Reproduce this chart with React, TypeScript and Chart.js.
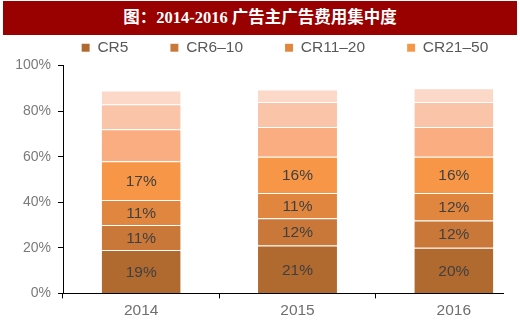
import React, { useEffect, useRef } from 'react';
import { Chart, registerables } from 'chart.js';

Chart.register(...registerables);

const years = ['2014', '2015', '2016'];
const legendNames = ['CR5', 'CR6–10', 'CR11–20', 'CR21–50'];
const cr5 = [19, 21, 20];
const cr6to10 = [11, 12, 12];
const cr11to20 = [11, 11, 12];
const cr21to50 = [17, 16, 16];
const restA = [14, 13, 13];
const restB = [11, 11, 11];
const restC = [6, 5.5, 6];
const yTicks = [0, 20, 40, 60, 80, 100];
const titleText = '图：2014-2016 广告主广告费用集中度';

const colors = ['#B0692F', '#C9783A', '#E0863F', '#F79646', '#F9AD80', '#FAC4A8', '#FBD8C8'];
const FONT = '"Liberation Sans", Arial, sans-serif';

const segLabels = {
  id: 'segLabels',
  afterDatasetsDraw(chart: any) {
    const ctx = chart.ctx;
    ctx.save();
    ctx.font = `15.5px ${FONT}`;
    ctx.fillStyle = '#404040';
    ctx.textAlign = 'center';
    ctx.textBaseline = 'middle';
    chart.data.datasets.forEach((ds: any, i: number) => {
      if (i > 3) return;
      const meta = chart.getDatasetMeta(i);
      meta.data.forEach((el: any, j: number) => {
        const { x, y, base } = el.getProps(['x', 'y', 'base'], true);
        ctx.fillText(Math.round(ds.data[j]) + '%', x, (y + base) / 2 + 1);
      });
    });
    ctx.restore();
  },
};

// shift the legend's centring box so that it is centred like the reference
const legendShift = {
  id: 'legendShift',
  afterLayout(chart: any) {
    if (chart.legend) {
      chart.legend.left = chart.chartArea.left - 25;
    }
  },
};

export default function App() {
  const ref = useRef<HTMLCanvasElement | null>(null);

  useEffect(() => {
    if (!ref.current) return;
    const series = [cr5, cr6to10, cr11to20, cr21to50, restA, restB, restC];
    const chart = new Chart(ref.current, {
      type: 'bar',
      data: {
        labels: years,
        datasets: series.map((d, i) => ({
          label: i < legendNames.length ? legendNames[i] : '',
          data: d,
          backgroundColor: colors[i],
          borderColor: 'rgba(255,255,255,0.3)',
          borderWidth: { top: 1, left: 0, right: 0, bottom: 0 },
          borderSkipped: false,
          categoryPercentage: 1,
          barPercentage: 0.505,
        })),
      },
      options: {
        responsive: false,
        animation: false,
        devicePixelRatio: 1,
        layout: { padding: { left: 10, right: 8, top: 0, bottom: 0 } },
        plugins: {
          tooltip: { enabled: false },
          legend: {
            display: true,
            position: 'top',
            labels: {
              boxWidth: 8,
              boxHeight: 8,
              padding: 42,
              color: '#595959',
              font: { size: 15.5, family: FONT },
              filter: (item: any) => item.text !== '',
            },
          },
        },
        scales: {
          x: {
            stacked: true,
            grid: { display: true, drawOnChartArea: false, drawTicks: true, tickLength: 5, color: '#000', offset: true },
            border: { display: true, color: '#000', width: 1 },
            ticks: { color: '#6f6f6f', padding: 3, font: { size: 15.5, family: FONT } },
          },
          y: {
            stacked: true,
            min: yTicks[0],
            max: yTicks[yTicks.length - 1],
            afterFit: (scale: any) => {
              scale.width = 53;
            },
            grid: { display: true, drawOnChartArea: false, drawTicks: true, tickLength: 5, color: '#000' },
            border: { display: true, color: '#000', width: 1 },
            ticks: {
              stepSize: yTicks[1] - yTicks[0],
              color: '#7a7a7a',
              padding: 7,
              font: { size: 14, family: FONT },
              callback: (v: any) => String(v) + '%',
            },
          },
        },
      },
      plugins: [segLabels, legendShift],
    });
    return () => chart.destroy();
  }, []);

  return (
    <div style={{ position: 'absolute', left: 0, top: 0, width: 520, height: 323, overflow: 'hidden', background: '#fff' }}>
      <div style={{ position: 'absolute', left: 0, top: 0, width: 504, height: 323, overflow: 'hidden' }}>
        <canvas
          ref={ref}
          width={540}
          height={325}
          style={{ position: 'absolute', left: 0, top: -2, width: 540, height: 325, display: 'block' }}
        />
      </div>
      <div
        style={{
          position: 'absolute',
          left: 3,
          top: 1,
          width: 514,
          height: 34,
          background: '#990000',
          color: '#fff',
          fontFamily: '"Liberation Serif", "Noto Sans CJK SC", serif',
          fontWeight: 'bold',
          fontSize: 16.5,
          lineHeight: '34px',
          textAlign: 'center',
          whiteSpace: 'nowrap',
        }}
      >
        {titleText}
      </div>
    </div>
  );
}
